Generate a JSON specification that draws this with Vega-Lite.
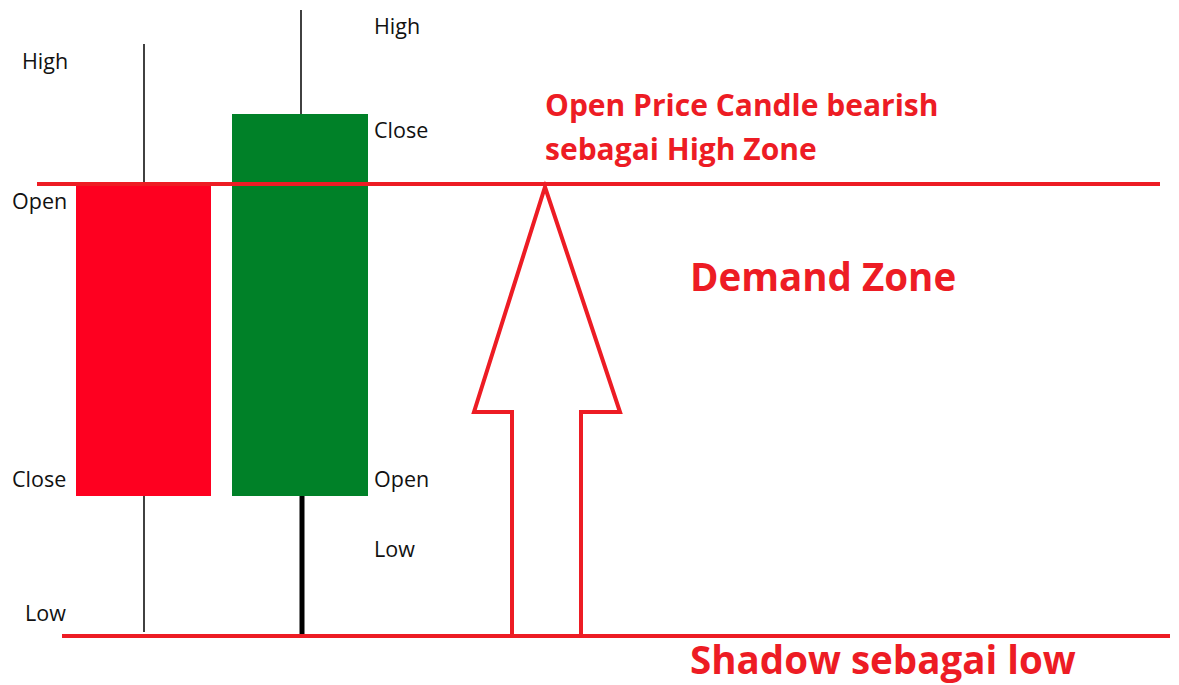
{
  "$schema": "https://vega.github.io/schema/vega-lite/v6.json",
  "width": 1179,
  "height": 685,
  "padding": 0,
  "autosize": "none",
  "background": "white",
  "config": {"view": {"stroke": null}},
  "encoding": {
    "x": {"type": "quantitative", "scale": {"domain": [0, 1179], "nice": false, "zero": false}, "axis": null},
    "y": {"type": "quantitative", "scale": {"domain": [685, 0], "nice": false, "zero": false}, "axis": null}
  },
  "layer": [
    {
      "data": {"values": [
        {"candle": "bearish", "x": 144, "y": 44, "y2": 632},
        {"candle": "bullish", "x": 301, "y": 10, "y2": 114}
      ]},
      "mark": {"type": "rule", "color": "#111111", "strokeWidth": 1.6},
      "encoding": {"x": {"field": "x"}, "y": {"field": "y"}, "y2": {"field": "y2"}}
    },
    {
      "data": {"values": [
        {"candle": "bullish", "x": 302, "y": 494, "y2": 635}
      ]},
      "mark": {"type": "rule", "color": "#000000", "strokeWidth": 5},
      "encoding": {"x": {"field": "x"}, "y": {"field": "y"}, "y2": {"field": "y2"}}
    },
    {
      "data": {"values": [
        {"candle": "bearish", "x": 76, "x2": 211, "y": 184, "y2": 496},
        {"candle": "bullish", "x": 232, "x2": 368, "y": 114, "y2": 496}
      ]},
      "mark": {"type": "rect"},
      "encoding": {
        "x": {"field": "x"}, "x2": {"field": "x2"},
        "y": {"field": "y"}, "y2": {"field": "y2"},
        "color": {"field": "candle", "type": "nominal", "scale": {"domain": ["bearish", "bullish"], "range": ["#FE0020", "#008128"]}, "legend": null}
      }
    },
    {
      "data": {"values": [
        {"line": "high zone", "x": 37, "x2": 1160, "y": 184},
        {"line": "low", "x": 62, "x2": 1170, "y": 636}
      ]},
      "mark": {"type": "rule", "color": "#ED1C24", "strokeWidth": 4},
      "encoding": {"x": {"field": "x"}, "x2": {"field": "x2"}, "y": {"field": "y"}}
    },
    {
      "data": {"values": [
        {"i": 1, "x": 512, "y": 636},
        {"i": 2, "x": 512, "y": 412},
        {"i": 3, "x": 474, "y": 412},
        {"i": 4, "x": 545, "y": 187},
        {"i": 5, "x": 620, "y": 412},
        {"i": 6, "x": 581, "y": 412},
        {"i": 7, "x": 581, "y": 636}
      ]},
      "mark": {"type": "line", "color": "#ED1C24", "strokeWidth": 4, "strokeJoin": "miter"},
      "encoding": {"x": {"field": "x"}, "y": {"field": "y"}, "order": {"field": "i", "type": "quantitative"}}
    },
    {
      "data": {"values": [
        {"label": "High", "x": 22, "y": 63},
        {"label": "High", "x": 374, "y": 28},
        {"label": "Close", "x": 374, "y": 132},
        {"label": "Open", "x": 12, "y": 203},
        {"label": "Close", "x": 12, "y": 481},
        {"label": "Open", "x": 374, "y": 481},
        {"label": "Low", "x": 374, "y": 551},
        {"label": "Low", "x": 25, "y": 615}
      ]},
      "mark": {"type": "text", "align": "left", "baseline": "middle", "font": "Open Sans", "fontSize": 21.5, "color": "#111111"},
      "encoding": {"x": {"field": "x"}, "y": {"field": "y"}, "text": {"field": "label"}}
    },
    {
      "data": {"values": [
        {"label": "Open Price Candle bearish", "x": 545, "y": 107},
        {"label": "sebagai High Zone", "x": 545, "y": 151}
      ]},
      "mark": {"type": "text", "align": "left", "baseline": "middle", "font": "Open Sans", "fontWeight": "bold", "fontSize": 30, "color": "#ED1C24"},
      "encoding": {"x": {"field": "x"}, "y": {"field": "y"}, "text": {"field": "label"}}
    },
    {
      "data": {"values": [
        {"label": "Demand Zone", "x": 690, "y": 279},
        {"label": "Shadow sebagai low", "x": 690, "y": 662}
      ]},
      "mark": {"type": "text", "align": "left", "baseline": "middle", "font": "Open Sans", "fontWeight": "bold", "fontSize": 38.5, "color": "#ED1C24"},
      "encoding": {"x": {"field": "x"}, "y": {"field": "y"}, "text": {"field": "label"}}
    }
  ]
}
